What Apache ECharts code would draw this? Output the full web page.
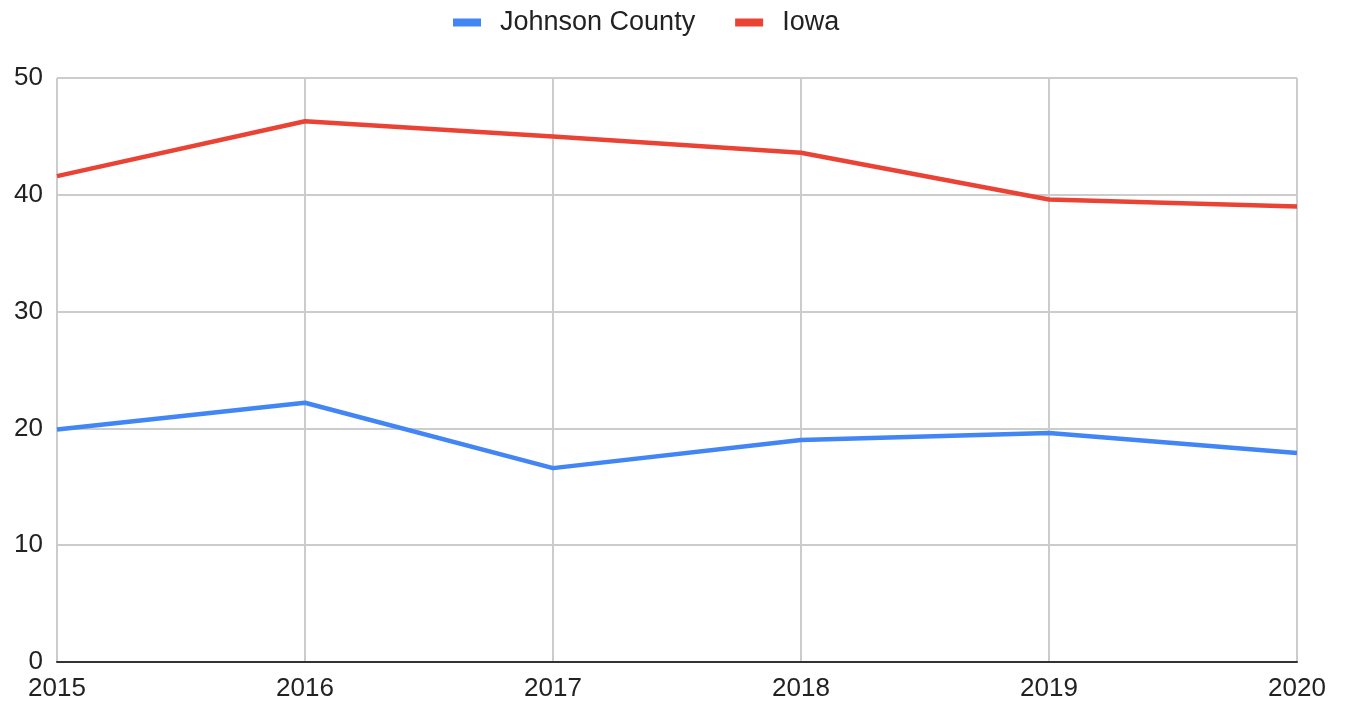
<!DOCTYPE html>
<html>
<head>
<meta charset="utf-8">
<script src="https://cdn.jsdelivr.net/npm/echarts@6/dist/echarts.min.js"></script>
<style>
  html, body { margin: 0; padding: 0; background: #fff; }
  #chart { width: 1346px; height: 702px; }
</style>
</head>
<body>
<div id="chart"></div>
<script>
var years = ['2015', '2016', '2017', '2018', '2019', '2020'];
var johnsonCounty = [19.9, 22.2, 16.6, 19.0, 19.6, 17.9];
var iowa = [41.6, 46.3, 45.0, 43.6, 39.6, 39.0];

var myChart = echarts.init(document.getElementById('chart'));
var option = {
  animation: false,
  textStyle: { fontFamily: 'Liberation Sans, Arial, sans-serif' },
  legend: {
    top: 4,
    left: 448,
    icon: 'rect',
    itemWidth: 28,
    itemHeight: 8,
    itemGap: 40,
    textStyle: { fontSize: 27, color: '#222', padding: [0, 0, 0, 14] },
    data: ['Johnson County', 'Iowa']
  },
  grid: { left: 57, right: 49, top: 78, bottom: 40, containLabel: false },
  xAxis: {
    type: 'category',
    boundaryGap: false,
    data: years,
    axisLine: { lineStyle: { color: '#333', width: 2 } },
    axisTick: { show: false },
    axisLabel: { fontSize: 26, color: '#222', margin: 14 },
    splitLine: { show: true, lineStyle: { color: '#ccc', width: 2 } }
  },
  yAxis: {
    type: 'value',
    min: 0,
    max: 50,
    interval: 10,
    axisLine: { show: false },
    axisTick: { show: false },
    axisLabel: { fontSize: 26, color: '#222', margin: 14 },
    splitLine: { lineStyle: { color: '#ccc', width: 2 } }
  },
  series: [
    {
      name: 'Johnson County',
      type: 'line',
      data: johnsonCounty,
      showSymbol: false,
      symbol: 'none',
      color: '#4285F4',
      lineStyle: { width: 4.5, color: '#4285F4' }
    },
    {
      name: 'Iowa',
      type: 'line',
      data: iowa,
      showSymbol: false,
      symbol: 'none',
      color: '#EA4335',
      lineStyle: { width: 4.5, color: '#EA4335' }
    }
  ]
};
myChart.setOption(option);
</script>
</body>
</html>
